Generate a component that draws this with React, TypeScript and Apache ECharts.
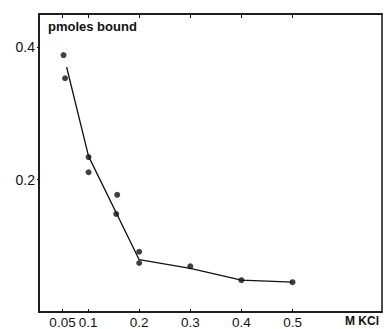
import React, { useEffect, useRef } from "react";
import * as echarts from "echarts";

const pointX = [0.052, 0.055, 0.101, 0.101, 0.157, 0.155, 0.2, 0.2, 0.3, 0.4, 0.5];
const pointY = [0.388, 0.353, 0.234, 0.211, 0.177, 0.148, 0.091, 0.074, 0.069, 0.048, 0.045];
const lineX = [0.058, 0.101, 0.2, 0.3, 0.4, 0.5];
const lineY = [0.37, 0.235, 0.079, 0.066, 0.048, 0.045];
const xTicks = [0.05, 0.1, 0.2, 0.3, 0.4, 0.5];
const xTickLabels = ["0.05", "0.1", "0.2", "0.3", "0.4", "0.5"];
const yTicks = [0.2, 0.4];
const yTickLabels = ["0.2", "0.4"];

export default function App() {
  const ref = useRef<HTMLDivElement>(null);
  useEffect(() => {
    if (!ref.current) return;
    const chart = echarts.init(ref.current, undefined, { renderer: "svg" });
    const font = "'Liberation Sans', Arial, sans-serif";
    const lbl = (ticks: number[], labels: string[]) => (v: number) =>
      labels[ticks.findIndex((t) => Math.abs(t - v) < 1e-6)] ?? "";
    chart.setOption({
      animation: false,
      backgroundColor: "#fff",
      grid: {
        left: 39,
        right: 4,
        top: 14,
        bottom: 17,
        show: true,
        borderColor: "#111",
        borderWidth: 1.5,
        backgroundColor: "transparent",
      },
      xAxis: [
        {
          type: "value",
          min: 0.004,
          max: 0.675,
          position: "bottom",
          axisLine: { show: true, onZero: false, lineStyle: { color: "#111", width: 1.5 } },
          axisTick: { show: true, inside: true, length: 3, customValues: xTicks, lineStyle: { color: "#111" } },
          axisLabel: {
            show: true,
            customValues: xTicks,
            formatter: lbl(xTicks, xTickLabels),
            color: "#111",
            fontFamily: font,
            fontSize: 13.5,
            margin: 3,
          },
          splitLine: { show: false },
        },
        {
          type: "value",
          min: 0.004,
          max: 0.675,
          position: "top",
          axisLine: { show: true, onZero: false, lineStyle: { color: "#111", width: 1.5 } },
          axisTick: { show: true, inside: true, length: 4, customValues: xTicks, lineStyle: { color: "#111" } },
          axisLabel: { show: false },
          splitLine: { show: false },
        },
      ],
      yAxis: [
        {
          type: "value",
          min: 0,
          max: 0.45,
          position: "left",
          axisLine: { show: true, onZero: false, lineStyle: { color: "#111", width: 1.5 } },
          axisTick: { show: true, inside: false, length: 2, customValues: yTicks, lineStyle: { color: "#111" } },
          axisLabel: {
            show: true,
            customValues: yTicks,
            formatter: lbl(yTicks, yTickLabels),
            color: "#111",
            fontFamily: font,
            fontSize: 14,
            margin: 4,
          },
          splitLine: { show: false },
        },
      ],
      graphic: [
        {
          type: "text",
          left: 48,
          top: 20,
          style: { text: "pmoles bound", fontFamily: font, fontSize: 13, fontWeight: "bold", fill: "#111" },
        },
        {
          type: "text",
          left: 345,
          top: 315,
          style: { text: "M KCl", fontFamily: font, fontSize: 12, fontWeight: "bold", fill: "#111" },
        },
      ],
      series: [
        {
          type: "line",
          data: lineX.map((x, i) => [x, lineY[i]]),
          showSymbol: false,
          lineStyle: { color: "#111", width: 1.3 },
          silent: true,
        },
        {
          type: "scatter",
          data: pointX.map((x, i) => [x, pointY[i]]),
          symbolSize: 6,
          itemStyle: { color: "#111" },
        },
      ],
    });
    return () => chart.dispose();
  }, []);
  return (
    <div
      ref={ref}
      style={{ position: "absolute", left: 0, top: 0, width: 386, height: 329, overflow: "hidden" }}
    />
  );
}
